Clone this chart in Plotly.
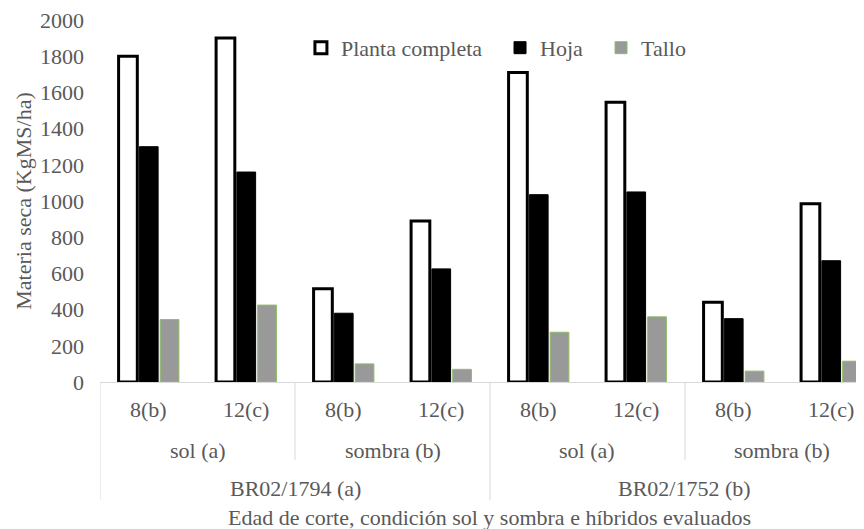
import plotly.graph_objects as go

# ---- data ----
hibridos = ["BR02/1794 (a)", "BR02/1752 (b)"]
condiciones = ["sol (a)", "sombra (b)"]
edades = ["8(b)", "12(c)"]
series_names = ["Planta completa", "Hoja", "Tallo"]
planta = [1800, 1900, 515, 890, 1710, 1545, 440, 985]
hoja = [1300, 1160, 380, 625, 1035, 1050, 350, 670]
tallo = [345, 425, 100, 70, 275, 360, 60, 115]
y_ticks = [0, 200, 400, 600, 800, 1000, 1200, 1400, 1600, 1800, 2000]

FONT = "Liberation Serif"
GREY = "#595959"
LINE = "#d9d9d9"
FS = 22

n_age = len(edades)
n_cond = len(condiciones)
n_cat = len(hibridos) * n_cond * n_age
xs = list(range(n_cat))

fig = go.Figure()
fig.add_trace(go.Bar(x=xs, y=planta, name=series_names[0], legend="legend",
                     marker=dict(color="white", line=dict(color="black", width=3))))
fig.add_trace(go.Bar(x=xs, y=hoja, name=series_names[1], legend="legend2",
                     marker=dict(color="black", line=dict(color="black", width=1))))
fig.add_trace(go.Bar(x=xs, y=tallo, name=series_names[2], legend="legend3",
                     marker=dict(color="#999999", line=dict(color="#8cc063", width=1))))

annotations = []
shapes = []
lab_font = dict(family=FONT, size=FS, color=GREY)
# level 1: age labels
for i in xs:
    annotations.append(dict(x=i, y=-0.077, xref="x", yref="paper", text=edades[i % n_age],
                            showarrow=False, yanchor="middle", font=lab_font))
# level 2: condition labels
for j in range(len(hibridos) * n_cond):
    cx = j * n_age + (n_age - 1) / 2
    annotations.append(dict(x=cx, y=-0.188, xref="x", yref="paper", text=condiciones[j % n_cond],
                            showarrow=False, yanchor="middle", font=lab_font))
# level 3: hybrid labels
for k, h in enumerate(hibridos):
    span = n_cond * n_age
    cx = k * span + (span - 1) / 2
    annotations.append(dict(x=cx, y=-0.293, xref="x", yref="paper", text=h,
                            showarrow=False, yanchor="middle", font=lab_font))
# axis title (centred on the full category axis)
annotations.append(dict(x=(n_cat - 1) / 2, y=-0.373, xref="x", yref="paper",
                        text="Edad de corte, condición sol y sombra e híbridos evaluados",
                        showarrow=False, yanchor="middle", font=lab_font))

# separators
for j in range(len(hibridos) * n_cond):
    xb = j * n_age - 0.5
    long_line = (j % n_cond == 0)
    shapes.append(dict(type="line", xref="x", yref="paper", x0=xb, x1=xb,
                       y0=0, y1=-0.326 if long_line else -0.215,
                       line=dict(color=LINE, width=1)))

leg_common = dict(orientation="h", y=0.923, xanchor="left", yanchor="middle",
                  font=dict(family=FONT, size=FS, color=GREY), bgcolor="rgba(0,0,0,0)",
                  itemwidth=30)

fig.update_layout(
    width=856, height=521,
    margin=dict(l=92, r=0, t=12, b=147),
    paper_bgcolor="white", plot_bgcolor="white",
    barmode="group", bargap=0.36, bargroupgap=0.1,
    font=dict(family=FONT, size=FS, color=GREY),
    showlegend=True,
    legend=dict(x=0.263, **leg_common),
    legend2=dict(x=0.5236, **leg_common),
    legend3=dict(x=0.6558, **leg_common),
    annotations=annotations,
    shapes=shapes,
)
fig.update_xaxes(range=[-0.5, 7.336], showticklabels=False, showgrid=False, zeroline=False,
                 showline=True, linecolor=LINE, linewidth=1, ticks="")
fig.update_yaxes(range=[0, 2000], tickvals=y_ticks, showgrid=False, zeroline=False,
                 showline=False, ticks="", ticklabelstandoff=15, ticklabeloverflow="allow",
                 tickfont=dict(family=FONT, size=FS, color=GREY),
                 title=dict(text="Materia seca (KgMS/ha)", standoff=2,
                            font=dict(family=FONT, size=FS, color=GREY)))

fig.write_html("out.html")
